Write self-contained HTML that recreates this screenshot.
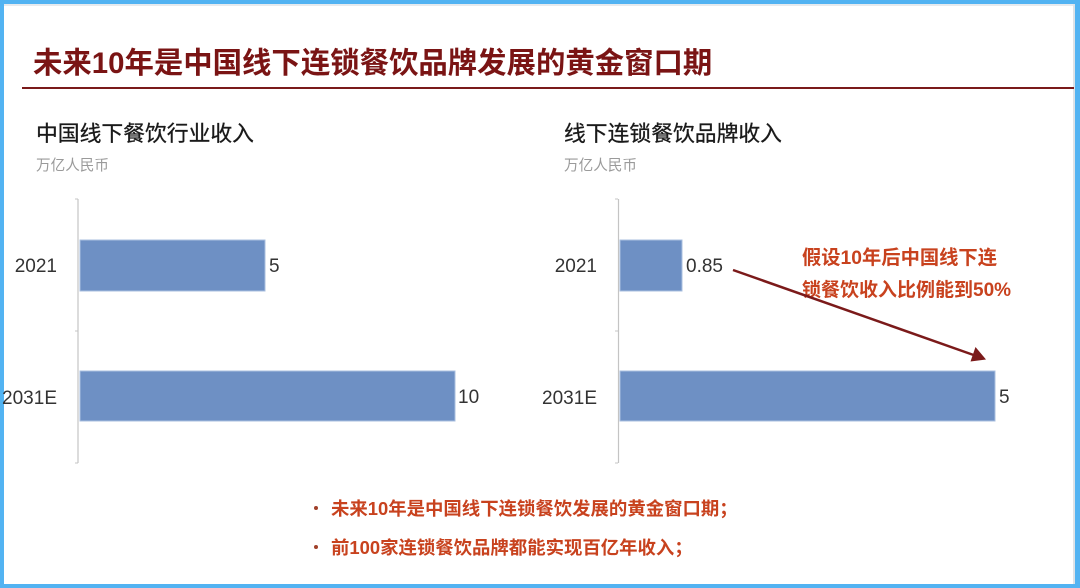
<!DOCTYPE html>
<html>
<head>
<meta charset="utf-8">
<style>
html,body{margin:0;padding:0;background:#fff;}
body{width:1080px;height:588px;overflow:hidden;position:relative;}
svg{display:block;}
</style>
</head>
<body>
<svg width="1080" height="588" viewBox="0 0 1080 588" xmlns="http://www.w3.org/2000/svg">
  <rect x="0" y="0" width="1080" height="588" fill="#ffffff"/>
  <!-- frame -->
  <rect x="0" y="0" width="1080" height="4" fill="#52b3f2"/>
  <rect x="4" y="4" width="1070" height="2" fill="#e6eaee"/>
  <rect x="0" y="0" width="4" height="588" fill="#52b3f2"/>
  <rect x="1075" y="0" width="5" height="588" fill="#52b3f2"/>
  <rect x="1073" y="4" width="2" height="580" fill="#dde3e8"/>
  <rect x="0" y="584" width="1080" height="4" fill="#52b3f2"/>

  <!-- Title -->
  <text x="33" y="73" font-family="'Liberation Sans','Noto Sans CJK SC',sans-serif" font-size="29.4" font-weight="bold" fill="#7a1414">未来10年是中国线下连锁餐饮品牌发展的黄金窗口期</text>
  <rect x="22" y="87" width="1052" height="2" fill="#7a1a1a"/>

  <!-- Left chart -->
  <text x="36" y="141" font-family="'Liberation Sans','Noto Sans CJK SC',sans-serif" font-size="21.8" fill="#1a1a1a" stroke="#1a1a1a" stroke-width="0.3">中国线下餐饮行业收入</text>
  <text x="36" y="170" font-family="'Liberation Sans','Noto Sans CJK SC',sans-serif" font-size="14.6" fill="#9a9a9a">万亿人民币</text>
  <line x1="78" y1="199" x2="78" y2="463" stroke="#c4c4c4" stroke-width="1.2"/>
  <line x1="75" y1="199" x2="78" y2="199" stroke="#c4c4c4" stroke-width="1"/>
  <line x1="75" y1="331" x2="78" y2="331" stroke="#c4c4c4" stroke-width="1"/>
  <line x1="75" y1="463" x2="78" y2="463" stroke="#c4c4c4" stroke-width="1"/>
  <rect x="80" y="240" width="185" height="51" fill="#6e90c4" stroke="#a9bfdf" stroke-width="1"/>
  <rect x="80" y="371" width="375" height="50" fill="#6e90c4" stroke="#a9bfdf" stroke-width="1"/>
  <text x="57" y="272" text-anchor="end" font-family="'Liberation Sans',sans-serif" font-size="19" fill="#333">2021</text>
  <text x="57" y="404" text-anchor="end" font-family="'Liberation Sans',sans-serif" font-size="19" fill="#333">2031E</text>
  <text x="269" y="272" font-family="'Liberation Sans',sans-serif" font-size="19" fill="#333">5</text>
  <text x="458" y="403" font-family="'Liberation Sans',sans-serif" font-size="19" fill="#333">10</text>

  <!-- Right chart -->
  <text x="564" y="141" font-family="'Liberation Sans','Noto Sans CJK SC',sans-serif" font-size="21.8" fill="#1a1a1a" stroke="#1a1a1a" stroke-width="0.3">线下连锁餐饮品牌收入</text>
  <text x="564" y="170" font-family="'Liberation Sans','Noto Sans CJK SC',sans-serif" font-size="14.6" fill="#9a9a9a">万亿人民币</text>
  <line x1="618.5" y1="199" x2="618.5" y2="463" stroke="#c4c4c4" stroke-width="1.2"/>
  <line x1="615" y1="199" x2="618" y2="199" stroke="#c4c4c4" stroke-width="1"/>
  <line x1="615" y1="331" x2="618" y2="331" stroke="#c4c4c4" stroke-width="1"/>
  <line x1="615" y1="463" x2="618" y2="463" stroke="#c4c4c4" stroke-width="1"/>
  <rect x="620" y="240" width="62" height="51" fill="#6e90c4" stroke="#a9bfdf" stroke-width="1"/>
  <rect x="620" y="371" width="375" height="50" fill="#6e90c4" stroke="#a9bfdf" stroke-width="1"/>
  <text x="597" y="272" text-anchor="end" font-family="'Liberation Sans',sans-serif" font-size="19" fill="#333">2021</text>
  <text x="597" y="404" text-anchor="end" font-family="'Liberation Sans',sans-serif" font-size="19" fill="#333">2031E</text>
  <text x="686" y="272" font-family="'Liberation Sans',sans-serif" font-size="19" fill="#333">0.85</text>
  <text x="999" y="403" font-family="'Liberation Sans',sans-serif" font-size="19" fill="#333">5</text>

  <!-- Annotation -->
  <text x="802" y="264" font-family="'Liberation Sans','Noto Sans CJK SC',sans-serif" font-size="19.3" font-weight="bold" fill="#c8421e">假设10年后中国线下连</text>
  <text x="802" y="296" font-family="'Liberation Sans','Noto Sans CJK SC',sans-serif" font-size="19" font-weight="bold" fill="#c8421e">锁餐饮收入比例能到50%</text>
  <line x1="733" y1="270" x2="975" y2="355.5" stroke="#7b1a1a" stroke-width="2.5"/>
  <polygon points="986,359.5 970.5,361.5 975.5,347" fill="#7b1a1a"/>

  <!-- Bullets -->
  <circle cx="316" cy="508" r="2" fill="#a0402a"/>
  <text x="331" y="515" font-family="'Liberation Sans','Noto Sans CJK SC',sans-serif" font-size="18.4" font-weight="bold" fill="#c8421e">未来10年是中国线下连锁餐饮发展的黄金窗口期；</text>
  <circle cx="316" cy="547" r="2" fill="#a0402a"/>
  <text x="331" y="554" font-family="'Liberation Sans','Noto Sans CJK SC',sans-serif" font-size="18.4" font-weight="bold" fill="#c8421e">前100家连锁餐饮品牌都能实现百亿年收入；</text>
</svg>
</body>
</html>
